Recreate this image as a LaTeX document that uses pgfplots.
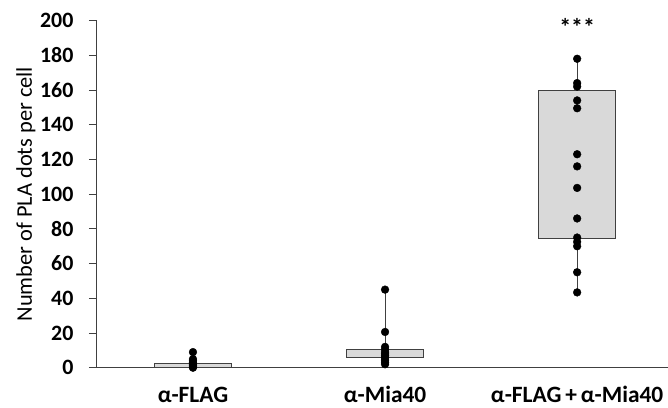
\documentclass[border=0pt]{standalone}
\usepackage{fontspec}
\setmainfont{Carlito}
\usepackage{pgfplots}
\pgfplotsset{compat=1.18}
\definecolor{boxfill}{HTML}{D9D9D9}
\definecolor{edge}{HTML}{404040}
\begin{document}
\begin{tikzpicture}
\begin{axis}[
  width=571.5bp, height=347.4bp, scale only axis,
  xmin=0.5, xmax=3.473, ymin=0, ymax=200,
  axis lines*=left,
  axis line style={edge, line width=0.9bp},
  ytick={0,20,...,200},
  xtick={1,2,3},
  xticklabels={α-FLAG, α-Mia40, α-FLAG\,+\,α-Mia40},
  x tick style={draw=none},
  y tick style={edge, line width=0.9bp},
  tick align=outside, major tick length=8bp,
  yticklabel={\textbf{\pgfmathprintnumber[assume math mode=true]{\tick}}},
  yticklabel style={font=\fontsize{22}{26}\selectfont\bfseries, xshift=-12bp},
  xticklabel style={font=\fontsize{23.5}{27}\selectfont\bfseries, anchor=base, yshift=-26.5bp, text depth=0pt},
  ylabel={Number of PLA dots per cell},
  ylabel style={font=\fontsize{22.5}{26}\selectfont, at={([xshift=-71bp]axis description cs:0,0.5)}, anchor=center, rotate=0},
  clip=false,
]
% whiskers
\addplot[edge, line width=0.9bp] coordinates {(1,0) (1,9)};
\addplot[edge, line width=0.9bp] coordinates {(2,1.5) (2,45)};
\addplot[edge, line width=0.9bp] coordinates {(3,43.4) (3,178)};
% boxes
\addplot[draw=edge, fill=boxfill, line width=0.8bp] coordinates {(0.8,0.3) (1.2,0.3) (1.2,2.7) (0.8,2.7)} -- cycle;
\addplot[draw=edge, fill=boxfill, line width=0.8bp] coordinates {(1.8,6.2) (2.2,6.2) (2.2,10.4) (1.8,10.4)} -- cycle;
\addplot[draw=edge, fill=boxfill, line width=0.8bp] coordinates {(2.8,74.5) (3.2,74.5) (3.2,160) (2.8,160)} -- cycle;
% points
\addplot[only marks, mark=*, mark size=3.9bp, black] coordinates {
(1,9) (1,5) (1,4) (1,3) (1,2) (1,1.5) (1,1) (1,0.5) (1,0)
(2,45) (2,20.6) (2,12) (2,10.5) (2,9) (2,8) (2,7) (2,6) (2,5) (2,4) (2,3) (2,2)
(3,178) (3,164) (3,162) (3,154) (3,149.5) (3,123) (3,116) (3,103.6) (3,86) (3,75) (3,72.5) (3,70) (3,55) (3,43.4)
};
\node[font=\fontsize{24}{28}\selectfont\bfseries, anchor=base] at (axis cs:3,191.6) {***};
\coordinate (bl) at ([xshift=-97bp, yshift=-40bp]rel axis cs:0,0);
\coordinate (tr) at ([yshift=20.6bp]rel axis cs:1,1);
\end{axis}
\pgfresetboundingbox
\path (bl) rectangle (tr);
\end{tikzpicture}
\end{document}
